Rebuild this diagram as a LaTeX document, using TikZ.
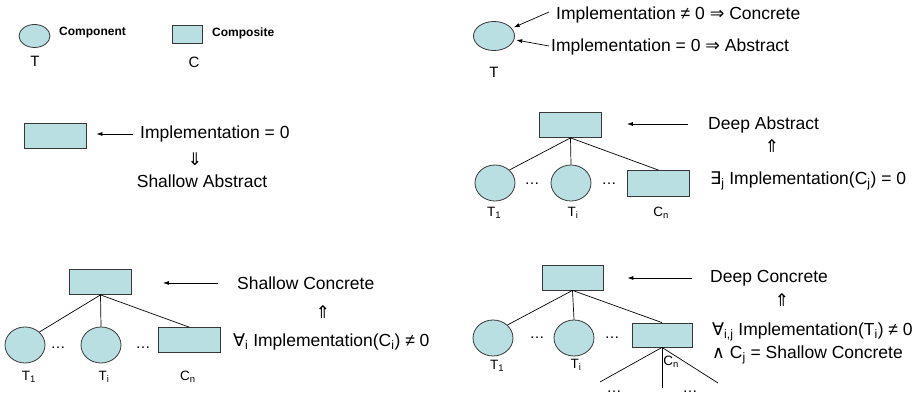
\documentclass[tikz,border=0pt]{standalone}
\usepackage{fontspec}
\setmainfont{Liberation Sans}
\newfontfamily\symfont{DejaVu Sans}
\usetikzlibrary{shapes.geometric,arrows.meta}
\definecolor{boxfill}{RGB}{185,223,226}
\definecolor{edge}{RGB}{55,55,55}
\newcommand\symb[1]{{\symfont #1}}
\newcommand\lo[1]{\textsubscript{#1}}

\begin{document}
\begin{tikzpicture}[x=1pt,y=-1pt,
  comp/.style={ellipse,draw=edge,fill=boxfill,line width=0.8pt,minimum width=40pt,minimum height=36pt,inner sep=0pt},
  box/.style={rectangle,draw=edge,fill=boxfill,line width=0.8pt,minimum width=62pt,minimum height=25pt,inner sep=0pt},
  txt/.style={inner sep=0pt,font=\fontsize{17.5}{21}\selectfont},
  lbl/.style={inner sep=0pt,font=\fontsize{13.5}{16}\selectfont},
  key/.style={inner sep=0pt,font=\fontsize{12}{14}\selectfont\bfseries},
  dotsx/.style={inner sep=0pt,anchor=base,font=\fontsize{15}{16}\selectfont},
  link/.style={line width=0.7pt},
  ptr/.style={line width=0.7pt,-{Latex[length=6pt,width=4pt]}},
]
\useasboundingbox (0,0) rectangle (919,395);

% ---- legend ----
\node[comp,minimum width=31pt,minimum height=23pt] (lgT) at (34.5,36) {};
\node[key,anchor=west] (lgTname) at (59,33) {Component};
\node[lbl,font=\fontsize{15}{18}\selectfont] (lgTl) at (35,61) {T};
\node[box,minimum width=30pt,minimum height=18pt] (lgC) at (187,34) {};
\node[key,anchor=west] (lgCname) at (212,33) {Composite};
\node[lbl,font=\fontsize{15}{18}\selectfont] (lgCl) at (194,62) {C};

% ---- component: concrete / abstract ----
\node[comp,minimum width=41pt,minimum height=29pt] (tt) at (494,36) {};
\node[lbl,font=\fontsize{15}{18}\selectfont] (ttl) at (494,72) {T};
\node[txt,anchor=west] (conc) at (556,15) {Implementation ≠ 0 \symb{⇒} Concrete};
\node[txt,anchor=west] (abst) at (551,47) {Implementation = 0 \symb{⇒} Abstract};
\coordinate (conctail) at (549,12);
\coordinate (absttail) at (549,46);
\draw[ptr,shorten >=2pt] (conctail) -- (tt);
\draw[ptr,shorten >=2pt] (absttail) -- (tt);

% ---- shallow abstract ----
\node[box] (sa) at (55,135.5) {};
\node[txt,anchor=west] (sai) at (140,134) {Implementation = 0};
\coordinate (saTail) at (133,134);
\draw[ptr,shorten >=10pt] (saTail) -- (saTail -| sa.east);
\node[txt] (sad) at (195,159) {\symb{⇓}};
\node[txt] (sat) at (202,181) {Shallow Abstract};

% ---- deep abstract ----
\node[box] (da) at (570.5,125) {};
\node[txt,anchor=west] (dat) at (708,125) {Deep Abstract};
\coordinate (daTail) at (688,124);
\draw[ptr,shorten >=25pt] (daTail) -- (daTail -| da.east);
\node[txt] (dau) at (772,146) {\symb{⇑}};
\node[txt,anchor=west] (dac) at (710,181) {\symb{∃}\lo{j} Implementation(C\lo{j}) = 0};
\node[comp] (daT1) at (495,183) {};
\node[comp] (daTi) at (571,183) {};
\node[box,minimum height=26pt] (daC) at (658.5,183.5) {};
\node[dotsx] (dad1) at (532,185) {…};
\node[dotsx] (dad2) at (609,185) {…};
\node[lbl] (daT1l) at (494,213) {T\lo{1}};
\node[lbl] (daTil) at (573,213) {T\lo{i}};
\node[lbl] (daCl) at (661,213) {C\lo{n}};
\draw[link] (da.south) -- (daT1.north east);
\draw[link] (da.south) -- (daTi.north);
\draw[link] (da.south) -- (daC.north);

% ---- shallow concrete ----
\node[box] (sc) at (100.5,282) {};
\node[txt,anchor=west] (sct) at (237,283) {Shallow Concrete};
\coordinate (scTail) at (218,283);
\draw[ptr,shorten >=31pt] (scTail) -- (scTail -| sc.east);
\node[txt] (scu) at (323,312) {\symb{⇑}};
\node[txt,anchor=west] (scc) at (233,342) {\symb{∀}\lo{i} Implementation(C\lo{i}) ≠ 0};
\node[comp] (scT1) at (25,345) {};
\node[comp] (scTi) at (101,345) {};
\node[box] (scC) at (189,340) {};
\node[dotsx] (scd1) at (58,349) {…};
\node[dotsx] (scd2) at (143,349) {…};
\node[lbl] (scT1l) at (29,377) {T\lo{1}};
\node[lbl] (scTil) at (104,377) {T\lo{i}};
\node[lbl] (scCl) at (188,377) {C\lo{n}};
\draw[link] (sc.south) -- (scT1.north east);
\draw[link] (sc.south) -- (scTi.north);
\draw[link] (sc.south) -- (scC.north);

% ---- deep concrete ----
\node[box,minimum width=61pt] (dc) at (572.5,277.5) {};
\node[txt,anchor=west] (dct) at (710,278) {Deep Concrete};
\coordinate (dcTail) at (692,278);
\draw[ptr,shorten >=24pt] (dcTail) -- (dcTail -| dc.east);
\node[txt] (dcu) at (782,300) {\symb{⇑}};
\node[txt,anchor=west] (dcc1) at (712,332) {\symb{∀}\lo{i,j} Implementation(T\lo{i}) ≠ 0};
\node[txt,anchor=west] (dcc2) at (712,355) {\symb{∧} C\lo{j} = Shallow Concrete};
\node[comp] (dcT1) at (493,338) {};
\node[comp] (dcTi) at (574,338) {};
\node[box,minimum width=60pt,minimum height=24pt] (dcC) at (662,335) {};
\node[dotsx] (dcd1) at (537,339) {…};
\node[dotsx] (dcd2) at (612,339) {…};
\node[lbl] (dcT1l) at (497,366) {T\lo{1}};
\node[lbl] (dcTil) at (576,365) {T\lo{i}};
\node[lbl] (dcCl) at (671,362) {C\lo{n}};
\draw[link] (dc.south) -- (dcT1.north east);
\draw[link] (dc.south) -- (dcTi.north);
\draw[link] (dc.south) -- (dcC.north);
\coordinate (subL) at (600,382);
\coordinate (subM) at (662,388);
\coordinate (subR) at (718,383);
\draw[link] (dcC.south) -- (subL);
\draw[link] (dcC.south) -- (subM);
\draw[link] (dcC.south) -- (subR);
\node[dotsx] (dcd3) at (614,392) {…};
\node[dotsx] (dcd4) at (690,392) {…};
\end{tikzpicture}
\end{document}
